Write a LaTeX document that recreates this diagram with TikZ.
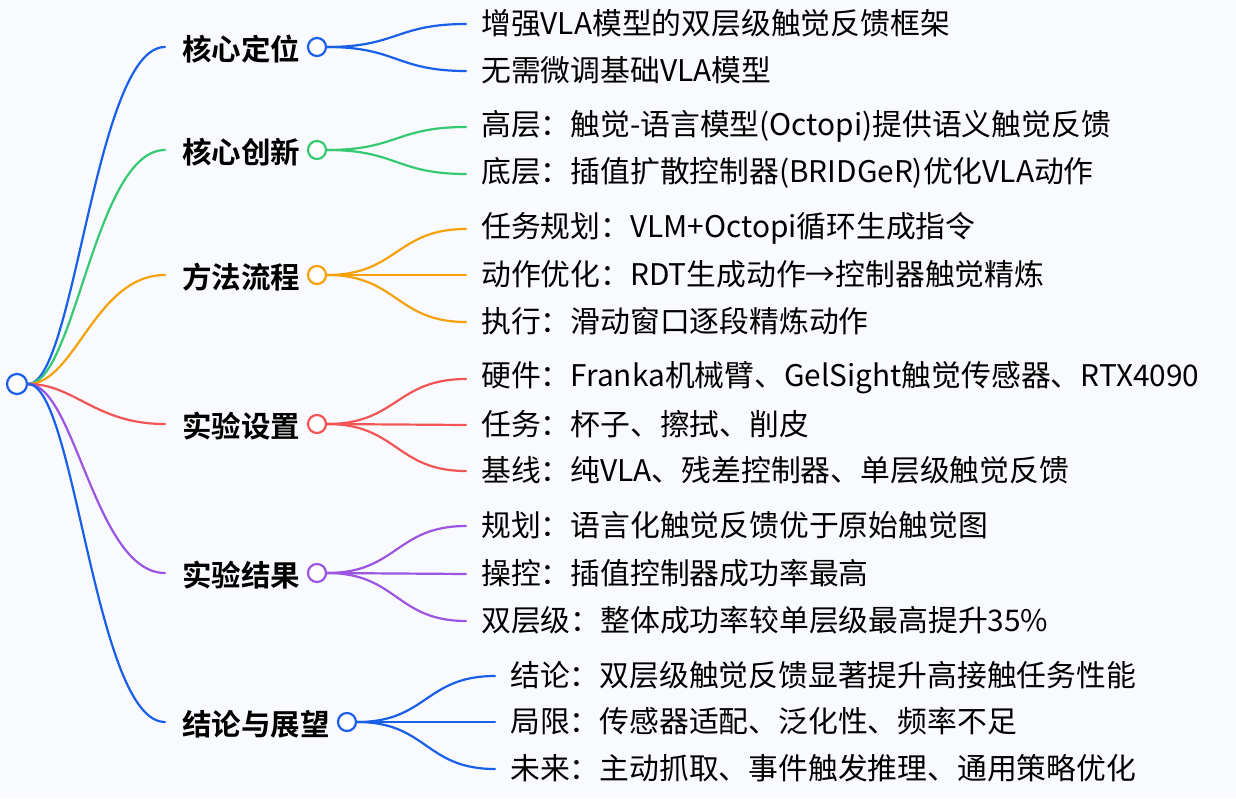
\documentclass[tikz,border=0pt]{standalone}
\usepackage{fontspec}
\setmainfont{Noto Sans CJK SC}
\newfontfamily\boldcjk{Noto Sans CJK SC Bold}
\begin{document}
\begin{tikzpicture}[x=1pt,y=-1pt,
  br/.style={font=\boldcjk\fontsize{29.5}{32}\selectfont,anchor=west,inner sep=0pt},
  lf/.style={font=\fontsize{29.8}{32}\selectfont,anchor=west,inner sep=0pt},
  dot/.style={circle,draw,fill=white,line width=2.2pt,minimum size=18pt,inner sep=0pt},
  ln/.style={line width=2.2pt,line cap=round}]
\definecolor{bg}{HTML}{F8FAFD}
\fill[bg] (0,0) rectangle (1236,798);
\useasboundingbox (0,0) rectangle (1236,798);
\definecolor{cb}{HTML}{1A5FE8}
\definecolor{cg}{HTML}{35C972}
\definecolor{co}{HTML}{F5A10A}
\definecolor{cr}{HTML}{F25555}
\definecolor{cp}{HTML}{9B55E0}
\node[dot,draw=cb,minimum size=20pt] (root) at (17,384) {};
\foreach \n/\y/\c/\cx/\t in {a/47/cb/317/核心定位, b/150/cg/317/核心创新, c/275/co/317/方法流程, d/424/cr/317/实验设置, e/573/cp/317/实验结果, f/722/cb/347/结论与展望}{
  \coordinate (s\n) at (165,\y);
  \draw[ln,draw=\c] (root.east) .. controls (75,384) and (95,\y) .. (s\n);
  \node[dot,draw=\c] (c\n) at (\cx,\y) {};
  \node[br] (t\n) at (182,\y+2) {\t};
}
\foreach \n/\p/\y/\c/\x/\t in {
 a1/a/24/cb/466/增强VLA模型的双层级触觉反馈框架,
 a2/a/71/cb/466/无需微调基础VLA模型,
 b1/b/127/cg/466/高层：触觉-语言模型(Octopi)提供语义触觉反馈,
 b2/b/174/cg/466/底层：插值扩散控制器(BRIDGeR)优化VLA动作,
 c1/c/229/co/466/任务规划：VLM+Octopi循环生成指令,
 c2/c/275/co/466/动作优化：RDT生成动作→控制器触觉精炼,
 c3/c/322/co/466/执行：滑动窗口逐段精炼动作,
 d1/d/379/cr/466/硬件：Franka机械臂、GelSight触觉传感器、RTX4090,
 d2/d/425/cr/466/任务：杯子、擦拭、削皮,
 d3/d/471/cr/466/基线：纯VLA、残差控制器、单层级触觉反馈,
 e1/e/526/cp/466/规划：语言化触觉反馈优于原始触觉图,
 e2/e/574/cp/466/操控：插值控制器成功率最高,
 e3/e/621/cp/466/双层级：整体成功率较单层级最高提升35\%,
 f1/f/676/cb/495/结论：双层级触觉反馈显著提升高接触任务性能,
 f2/f/722/cb/495/局限：传感器适配、泛化性、频率不足,
 f3/f/769/cb/495/未来：主动抓取、事件触发推理、通用策略优化}{
  \coordinate (e\n) at (\x,\y);
  \draw[ln,draw=\c] (c\p.east) .. controls ([xshift=70]c\p.east) and ([xshift=-70]e\n) .. (e\n);
  \node[lf] (l\n) at ([xshift=15,yshift=1]e\n) {\t};
}
\end{tikzpicture}
\end{document}
